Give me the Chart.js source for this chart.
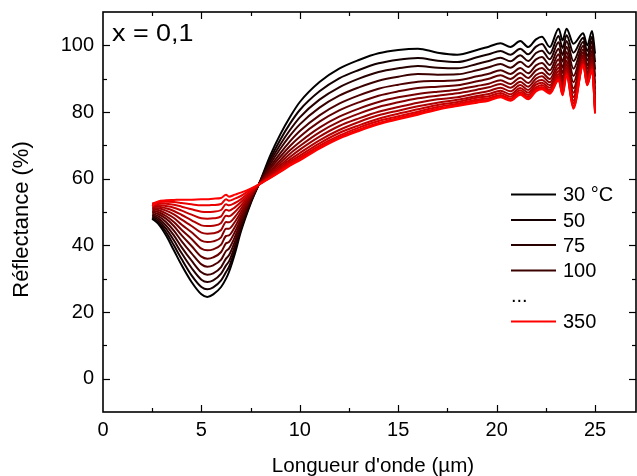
<!DOCTYPE html>
<html>
<head>
<meta charset="utf-8">
<script src="https://cdn.jsdelivr.net/npm/chart.js@4.4.1/dist/chart.umd.min.js"></script>
<style>
  html, body { margin: 0; padding: 0; background: #fff; }
  #c { display: block; }
</style>
</head>
<body>
<canvas id="c" width="637" height="476"></canvas>
<script>
// wavelength (µm)
const wavelength = [2.5, 2.8, 3.2, 3.6, 4.0, 4.5, 5.0, 5.3, 5.6, 6.0, 6.25, 6.4, 6.7, 7.0, 7.5,
  8.0, 8.5, 9.0, 9.5, 10, 11, 12, 13, 14, 15, 16, 17, 18, 19, 19.6, 20.2, 20.7, 21.2, 21.6, 22.0,
  22.3, 22.7, 23.15, 23.35, 23.55, 23.9, 24.4, 24.6, 24.85, 25.0];

// reflectance (%) per temperature
const r30 = [48, 46.5, 43, 38.5, 34, 29, 25.3, 24.5, 25.3, 27.5, 30, 32, 37.5, 44, 52.5, 59.5, 67, 73.2, 78.5, 83, 89, 93, 95.6, 97.6, 98.6, 99, 97.8, 97.2, 98.6, 99.6, 100.6, 99.5, 101.3, 99.5, 101.8, 102.6, 99.5, 105, 101.5, 105, 100.5, 103.6, 100, 104.3, 97.5];
const r50 = [48.3, 47, 44, 40, 35.8, 31, 27.5, 26.8, 27.4, 29.5, 32, 33.5, 38.6, 44.6, 52.8, 59.4, 66, 71.6, 76.5, 80.6, 86.2, 90.1, 92.6, 94.6, 95.7, 96.2, 95.4, 95, 96.4, 97.3, 98.3, 97.2, 99, 97.3, 99.6, 100.4, 97.5, 102.8, 99.2, 103, 97.8, 102.3, 98.3, 102.6, 95];
const r75 = [48.7, 47.6, 45, 41.5, 37.6, 33.2, 29.7, 29, 29.5, 31.5, 34, 35.2, 39.8, 45.3, 53.1, 59.3, 65.2, 70.2, 74.6, 78.4, 83.7, 87.4, 90, 92, 93.1, 93.8, 93.3, 93.1, 94.4, 95.3, 96.3, 95.2, 97, 95.3, 97.7, 98.4, 95.8, 100.9, 97.1, 101.3, 95.3, 101.1, 96.8, 101.2, 92.7];
const r100 = [49.1, 48.2, 46, 43, 39.4, 35.4, 31.9, 31.2, 31.6, 33.5, 36, 37, 41.1, 46.1, 53.4, 59.2, 64.4, 68.9, 72.9, 76.3, 81.3, 84.9, 87.4, 89.4, 90.6, 91.4, 91.2, 91.3, 92.5, 93.4, 94.4, 93.3, 95.1, 93.5, 95.8, 96.5, 94.1, 99, 95.1, 99.6, 93, 99.9, 95.4, 99.8, 90.6];
const r125 = [49.5, 48.8, 47, 44.4, 41.2, 37.6, 34.3, 33.6, 34, 35.7, 38.3, 39, 42.5, 47, 53.7, 59.1, 63.6, 67.6, 71.2, 74.3, 79, 82.5, 85, 87, 88.2, 89.1, 89.3, 89.5, 90.7, 91.5, 92.5, 91.4, 93.2, 91.6, 94, 94.7, 92.5, 97.3, 93.3, 98, 90.8, 98.8, 94, 98.4, 88.5];
const r150 = [50, 49.4, 48, 45.8, 43, 39.8, 36.6, 36, 36.4, 38, 40.6, 41, 44, 47.9, 54, 59, 63, 66.5, 69.8, 72.6, 77.1, 80.5, 82.9, 84.9, 86.2, 87.2, 87.6, 88, 89.2, 90, 91, 89.9, 91.7, 90.2, 92.5, 93.2, 91.2, 95.8, 91.7, 96.7, 88.9, 97.9, 92.9, 97.3, 86.8];
const r175 = [50.4, 50, 48.8, 47, 44.6, 41.9, 39, 38.5, 38.8, 40.2, 42.8, 43, 45.5, 48.9, 54.3, 58.9, 62.3, 65.5, 68.5, 71, 75.3, 78.6, 81, 83, 84.4, 85.4, 86.1, 86.7, 87.8, 88.5, 89.5, 88.4, 90.3, 88.7, 91.1, 91.8, 89.9, 94.4, 90.2, 95.4, 87.1, 97, 91.8, 96.2, 85.2];
const r200 = [50.8, 50.6, 49.6, 48.2, 46.2, 43.9, 41.4, 41, 41.2, 42.4, 45, 45, 47, 49.9, 54.7, 58.8, 61.9, 64.7, 67.5, 69.8, 73.9, 77.1, 79.5, 81.5, 82.9, 84.1, 84.9, 85.6, 86.7, 87.4, 88.4, 87.3, 89.1, 87.6, 90, 90.7, 88.9, 93.3, 89.1, 94.4, 85.8, 96.4, 91, 95.4, 83.9];
const r225 = [51.2, 51.1, 50.4, 49.3, 47.7, 45.8, 43.8, 43.5, 43.6, 44.6, 47, 46.9, 48.5, 50.9, 55.1, 58.7, 61.4, 64, 66.5, 68.7, 72.6, 75.8, 78.1, 80.1, 81.5, 82.8, 83.8, 84.4, 85.6, 86.3, 87.3, 86.2, 88.1, 86.6, 89, 89.6, 88, 92.3, 88, 93.5, 84.5, 95.7, 90.2, 94.6, 82.7];
const r250 = [51.6, 51.6, 51.1, 50.3, 49.1, 47.5, 46, 45.8, 45.9, 46.7, 48.9, 48.7, 50, 51.9, 55.5, 58.7, 61, 63.4, 65.7, 67.7, 71.5, 74.6, 77, 79, 80.4, 81.7, 82.8, 83.7, 84.8, 85.4, 86.4, 85.3, 87.2, 85.8, 88.2, 88.8, 87.3, 91.4, 87.1, 92.8, 83.4, 95.2, 89.5, 94, 81.8];
const r275 = [52, 52.1, 51.8, 51.3, 50.4, 49.2, 48.1, 48, 48.1, 48.7, 50.7, 50.4, 51.4, 52.9, 55.9, 58.6, 60.7, 62.9, 65.1, 66.9, 70.6, 73.7, 76, 78, 79.5, 80.8, 82.1, 83, 84.3, 84.7, 85.7, 84.6, 86.5, 85.1, 87.4, 88.1, 86.6, 90.7, 86.3, 92.1, 82.6, 94.8, 89, 93.4, 80.9];
const r300 = [52.3, 52.6, 52.5, 52.2, 51.6, 50.8, 50.1, 50, 50.1, 50.6, 52.3, 52, 52.7, 53.8, 56.3, 58.6, 60.5, 62.5, 64.6, 66.3, 69.9, 72.9, 75.3, 77.3, 78.7, 80.1, 81.5, 82.5, 83.7, 84.1, 85.1, 84, 85.9, 84.5, 86.9, 87.5, 86.1, 90.2, 85.7, 91.6, 81.9, 94.4, 88.5, 93, 80.3];
const r325 = [52.5, 53, 53.1, 53, 52.7, 52.3, 52, 52, 52.1, 52.4, 53.8, 53.4, 54, 54.8, 56.7, 58.5, 60.3, 62.2, 64.2, 65.9, 69.4, 72.4, 74.7, 76.7, 78.2, 79.6, 81, 82.1, 83.3, 83.7, 84.7, 83.7, 85.5, 84.1, 86.5, 87.1, 85.8, 89.8, 85.3, 91.3, 81.4, 94.2, 88.2, 92.7, 79.9];
const r350 = [51.8, 53.2, 53.5, 53.6, 53.7, 53.7, 53.8, 53.8, 54, 54.2, 55.2, 54.6, 55.2, 55.8, 57, 58.5, 60.2, 62, 63.9, 65.5, 69, 72, 74.3, 76.3, 77.8, 79.2, 80.7, 81.8, 82.8, 83.4, 84.4, 83.4, 85.2, 83.8, 86.2, 86.8, 85.5, 89.5, 85, 91, 81, 94, 88, 92.5, 79.5];

const temps = ['30 °C', '50', '75', '100', '125', '150', '175', '200', '225', '250', '275', '300', '325', '350'];
const series = [r30, r50, r75, r100, r125, r150, r175, r200, r225, r250, r275, r300, r325, r350];
const colors = ['#000000', '#140000', '#270000', '#3b0000', '#4e0000', '#620000', '#760000',
  '#890000', '#9d0000', '#b10000', '#c40000', '#d80000', '#eb0000', '#ff0000'];
const legendItems = [0, 1, 2, 3, null, 13];   // null -> "..."
const sampleText = 'x = 0,1';
const xTitle = "Longueur d'onde (µm)";
const yTitle = 'Réflectance (%)';

const FONT = '"Liberation Sans", Arial, sans-serif';

const datasets = series.map((s, k) => ({
  label: temps[k],
  data: wavelength.map((w, i) => ({ x: w, y: s[i] })),
  borderColor: colors[k],
  borderWidth: 2,
  pointRadius: 0,
  fill: false,
  cubicInterpolationMode: 'monotone',
  order: series.length - 1 - k
}));

const noPad = s => { s.paddingTop = 0; s.paddingBottom = 0; s.paddingLeft = 0; s.paddingRight = 0; };

// box frame, inward ticks, axis titles, sample label and legend
const decor = {
  id: 'decor',
  afterDraw(chart) {
    const { ctx, chartArea: a, scales: { x, y } } = chart;
    const seg = (x1, y1, x2, y2) => { ctx.beginPath(); ctx.moveTo(x1, y1); ctx.lineTo(x2, y2); ctx.stroke(); };
    ctx.save();
    ctx.strokeStyle = '#000';
    ctx.lineWidth = 1.2;
    for (let v = 2.5; v <= x.max; v += 2.5) {
      const px = Math.round(x.getPixelForValue(v)) + 0.5;
      const len = v % 5 === 0 ? 7 : 4;
      seg(px, a.bottom, px, a.bottom - len);
      seg(px, a.top, px, a.top + len);
    }
    for (let v = y.min + 10; v < y.max; v += 10) {
      const py = Math.round(y.getPixelForValue(v)) + 0.5;
      const len = v % 20 === 0 ? 7 : 4;
      seg(a.left, py, a.left + len, py);
      seg(a.right, py, a.right - len, py);
    }
    ctx.lineWidth = 1.6;
    ctx.strokeRect(a.left, a.top, a.right - a.left, a.bottom - a.top);

    ctx.fillStyle = '#000';

    // axis titles
    ctx.font = '20.6px ' + FONT;
    ctx.textAlign = 'center';
    ctx.textBaseline = 'alphabetic';
    ctx.fillText(xTitle, 373, 472);
    ctx.save();
    ctx.font = '22px ' + FONT;
    ctx.textBaseline = 'middle';
    ctx.translate(21.5, 219.5);
    ctx.rotate(-Math.PI / 2);
    ctx.fillText(yTitle, 0, 0);
    ctx.restore();
    ctx.textAlign = 'left';

    ctx.font = '23px ' + FONT;
    ctx.save();
    ctx.translate(a.left + 9, a.top + 28.5);
    ctx.scale(1.17, 1);
    ctx.fillText(sampleText, 0, 0);
    ctx.restore();

    // legend
    ctx.font = '20px ' + FONT;
    ctx.textBaseline = 'middle';
    const lx = a.right - 125, ly = a.top + 182.5;
    const ys = [0, 25.5, 50.5, 76, 103, 127];
    legendItems.forEach((k, j) => {
      const yy = ly + ys[j];
      if (k === null) {
        ctx.fillStyle = '#000';
        ctx.textBaseline = 'alphabetic';
        ctx.fillText('...', lx, yy + 4);
        ctx.textBaseline = 'middle';
        return;
      }
      ctx.strokeStyle = colors[k];
      ctx.lineWidth = 2;
      seg(lx, yy, lx + 45, yy);
      ctx.fillStyle = '#000';
      ctx.fillText(temps[k], lx + 52, yy + 1);
    });
    ctx.restore();
  }
};

new Chart(document.getElementById('c'), {
  type: 'line',
  data: { datasets },
  options: {
    responsive: false,
    animation: false,
    devicePixelRatio: 1,
    layout: { padding: { left: 0, right: 1, top: 12, bottom: 0 } },
    plugins: { legend: { display: false }, tooltip: { enabled: false } },
    scales: {
      x: {
        type: 'linear',
        min: 0,
        max: 27.08,
        grid: { display: false, drawTicks: false },
        border: { display: false },
        ticks: {
          stepSize: 5,
          includeBounds: false,
          autoSkip: false,
          maxRotation: 0,
          padding: 6,
          color: '#000',
          font: { family: FONT, size: 20 },
          callback: v => (Math.abs(v % 5) < 1e-6 ? String(Math.round(v)) : '')
        },
        title: { display: false },
        afterFit: s => { s.height = 64; noPad(s); }
      },
      y: {
        type: 'linear',
        min: -10,
        max: 110,
        grid: { display: false, drawTicks: false },
        border: { display: false },
        ticks: {
          stepSize: 10,
          autoSkip: false,
          padding: 9,
          color: '#000',
          font: { family: FONT, size: 20 },
          callback: v => {
            const r = Math.round(v);
            return (r % 20 === 0 && r >= 0 && r <= 100) ? String(r) : '';
          }
        },
        title: { display: false },
        afterFit: s => { s.width = 103; noPad(s); }
      }
    }
  },
  plugins: [decor]
});
</script>
</body>
</html>
